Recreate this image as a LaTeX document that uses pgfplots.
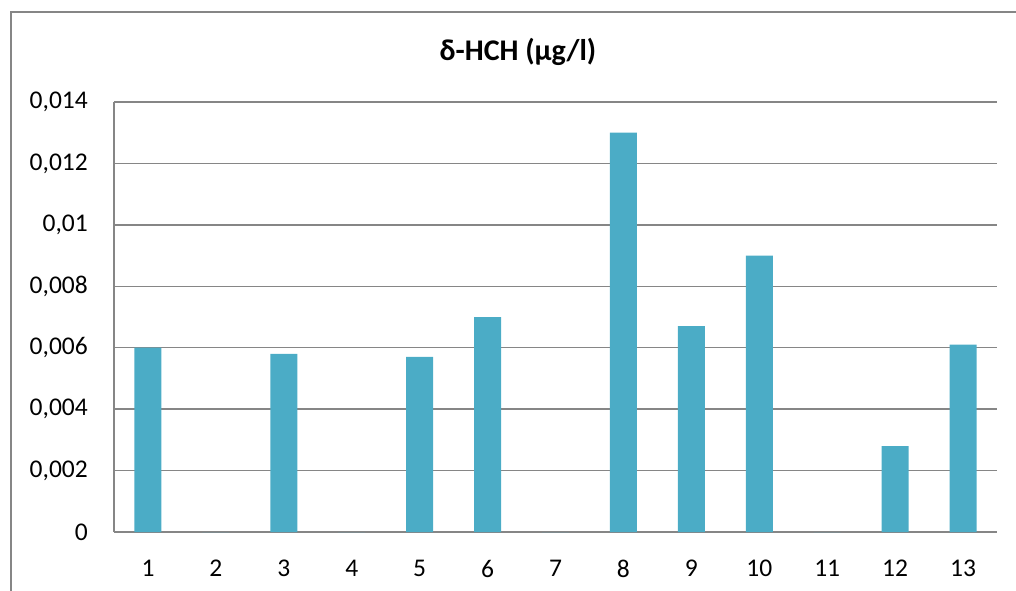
\documentclass[border=0pt]{standalone}
\usepackage{pgfplots}
\pgfplotsset{compat=1.18}
\usepackage{fontspec}
\setmainfont{Carlito}
\definecolor{barblue}{HTML}{4BACC6}
\definecolor{gridgray}{HTML}{868686}
\begin{document}
\begin{tikzpicture}[x=1pt,y=1pt]
\useasboundingbox (0,0) rectangle (1016,590);
\begin{scope}
\clip (0,0) rectangle (1016,590);
\draw[gridgray, line width=2pt] (11,-10) -- (11,577.5) -- (1030,577.5);
\end{scope}
\node[anchor=base, font=\fontsize{30}{34}\selectfont\bfseries] at (518,529) {δ-HCH (μg/l)};
\begin{axis}[
  at={(114pt,58pt)}, anchor=south west,
  scale only axis, width=883pt, height=430pt,
  ybar, bar width=27pt,
  xmin=0.5, xmax=13.5, ymin=0, ymax=0.014,
  xtick={1,...,13},
  ytick={0,0.002,0.004,0.006,0.008,0.01,0.012,0.014},
  yticklabels={{0},{0,002},{0,004},{0,006},{0,008},{0,01},{0,012},{0,014}},
  scaled y ticks=false,
  axis lines*=left,
  axis line style={gridgray, line width=1.5pt},
  ymajorgrids, grid style={gridgray, line width=1.5pt},
  major tick length=0pt,
  tick style={draw=none},
  ticklabel style={font=\fontsize{25.5}{30}\selectfont},
  /pgf/number format/assume math mode=true,
  xticklabel style={anchor=north, inner sep=0pt, yshift=-28pt},
  yticklabel style={anchor=east, inner sep=0pt, xshift=-26pt},
  clip=false,
]
\addplot[fill=barblue, draw=none] coordinates {
(1,0.006) (2,0) (3,0.0058) (4,0) (5,0.0057) (6,0.007) (7,0) (8,0.013) (9,0.0067) (10,0.009) (11,0) (12,0.0028) (13,0.0061)};
\end{axis}
\end{tikzpicture}
\end{document}
